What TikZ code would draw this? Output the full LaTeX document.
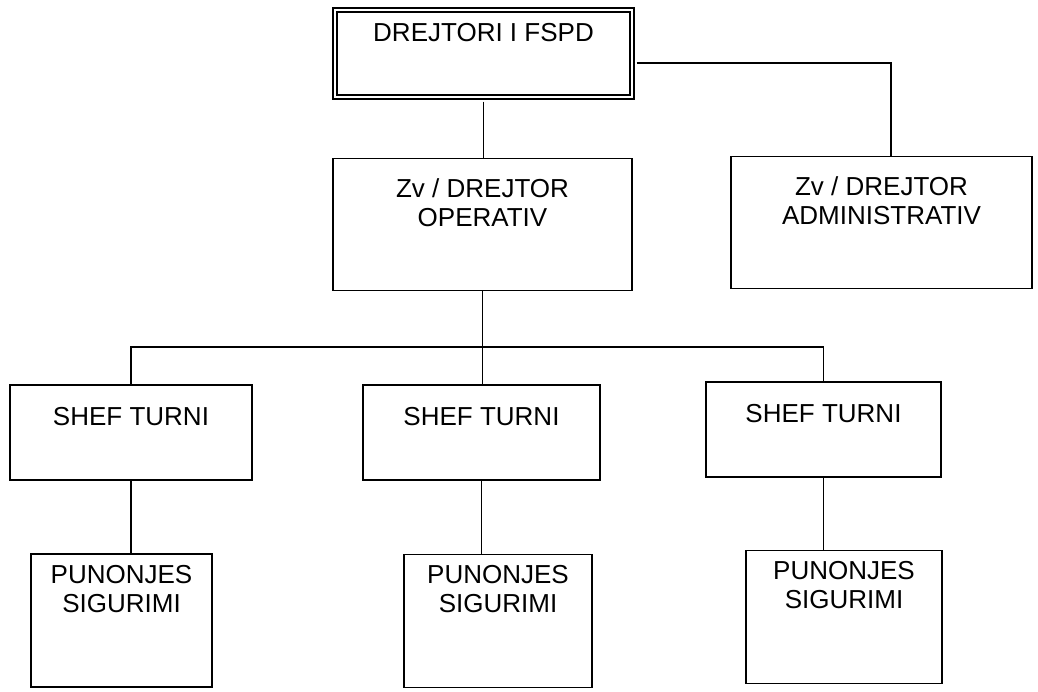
\documentclass[tikz,border=0pt]{standalone}
\usepackage{fontspec}
\setmainfont{Liberation Sans}

\begin{document}
\begin{tikzpicture}
		[x=0.02cm,y=-0.02cm,line width=0.8pt,
		every node/.style={draw,rectangle,inner sep=0pt,align=center,font=\fontsize{14.8}{16.5}\selectfont},
		boss/.style={double,line width=1.2pt,double distance=1.5pt,minimum width=5.94cm,text height=0.64cm,text depth=1.10cm},
		deputy/.style={minimum width=#1,text height=1.36cm,text depth=1.28cm},
		shef/.style={minimum width=#1,text height=0.80cm,text depth=1.10cm},
		worker/.style={minimum width=#1,text height=1.16cm,text depth=1.50cm}]
		\useasboundingbox (0,0) rectangle (1038,692);
		\node[boss] (dir) at (483.5,53.5) {DREJTORI I FSPD};
		\node[deputy=5.98cm] (zvop) at (482.5,224.5) {Zv / DREJTOR\\OPERATIV};
		\node[deputy=6.02cm] (zvadm) at (881.5,222.5) {Zv / DREJTOR\\ADMINISTRATIV};
		\node[shef=4.84cm] (sh1) at (131,432.5) {SHEF TURNI};
		\node[shef=4.74cm] (sh2) at (481.5,432.5) {SHEF TURNI};
		\node[shef=4.70cm] (sh3) at (823.5,429.5) {SHEF TURNI};
		\node[worker=3.62cm] (pun1) at (121.5,620.5) {PUNONJES\\SIGURIMI};
		\node[worker=3.76cm] (pun2) at (498,621) {PUNONJES\\SIGURIMI};
		\node[worker=3.92cm] (pun3) at (844,617) {PUNONJES\\SIGURIMI};
		\coordinate (adm) at (891,63);
		\coordinate (bus) at (481.5,347);
		
		\draw[shorten <=0.07cm] (dir.south) -- (dir.south |- zvop.north);
		\draw[shorten <=0.07cm] (dir.east |- adm) -- (adm) -- (adm |- zvadm.north);
		\draw (zvop.south) -- (zvop.south |- sh2.north);
		\draw (sh1.north) |- (bus) -| (sh3.north);
		\foreach \from/\to in {sh1/pun1,sh2/pun2,sh3/pun3}
		\draw (\from.south) -- (\from.south |- \to.north);
		\end{tikzpicture}
\end{document}
